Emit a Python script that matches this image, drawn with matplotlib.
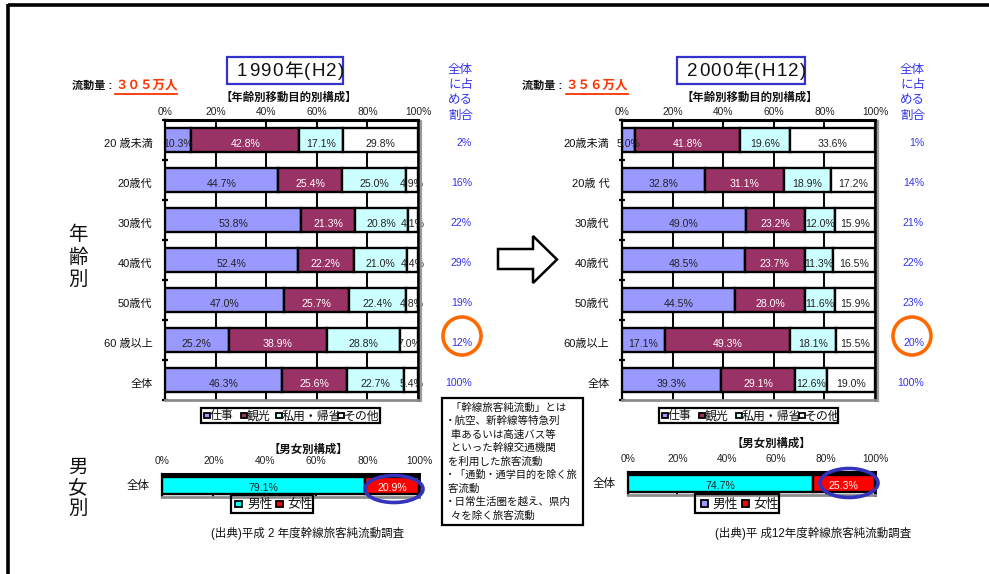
import numpy as np
import matplotlib
matplotlib.use("Agg")
import matplotlib.pyplot as plt
from matplotlib.patches import Rectangle, Ellipse, Polygon

plt.rcParams['font.family'] = ['Liberation Sans', 'Noto Sans CJK JP', 'DejaVu Sans']

W, H = 989, 574

# ---------------- data ----------------
purposes = ["仕事", "観光", "私用・帰省", "その他"]
purpose_colors = ["#9999FF", "#993366", "#CCFFFF", "#FFFFFF"]
purpose_text_colors = ["#222222", "#FFFFFF", "#222222", "#222222"]

ages_1990 = ["20 歳未満", "20歳代", "30歳代", "40歳代", "50歳代", "60 歳以上", "全体"]
ages_2000 = ["20歳未満", "20歳 代", "30歳代", "40歳代", "50歳代", "60歳以上", "全体"]

business_1990 = [10.3, 44.7, 53.8, 52.4, 47.0, 25.2, 46.3]
tourism_1990 = [42.8, 25.4, 21.3, 22.2, 25.7, 38.9, 25.6]
private_1990 = [17.1, 25.0, 20.8, 21.0, 22.4, 28.8, 22.7]
other_1990 = [29.8, 4.9, 4.1, 4.4, 4.8, 7.0, 5.4]

business_2000 = [5.0, 32.8, 49.0, 48.5, 44.5, 17.1, 39.3]
tourism_2000 = [41.8, 31.1, 23.2, 23.7, 28.0, 49.3, 29.1]
private_2000 = [19.6, 18.9, 12.0, 11.3, 11.6, 18.1, 12.6]
other_2000 = [33.6, 17.2, 15.9, 16.5, 15.9, 15.5, 19.0]

share_1990 = [2, 16, 22, 29, 19, 12, 100]
share_2000 = [1, 14, 21, 22, 23, 20, 100]

genders = ["男性", "女性"]
gender_colors = ["#00FFFF", "#FF0000"]
gender_text_colors = ["#222222", "#FFFFFF"]
gender_1990 = [79.1, 20.9]
gender_2000 = [74.7, 25.3]

pct_ticks = [0, 20, 40, 60, 80, 100]
pct_tick_labels = ["0%", "20%", "40%", "60%", "80%", "100%"]

volume_1990 = "３０５万人"
volume_2000 = "３５６万人"
year_1990 = "1990年(H2)"
year_2000 = "2000年(H12)"

note_lines = [
    "  「幹線旅客純流動」とは",
    "・航空、新幹線等特急列",
    "  車あるいは高速バス等",
    "  といった幹線交通機関",
    " を利用した旅客流動",
    "・「通勤・通学目的を除く旅",
    " 客流動",
    "・日常生活圏を越え、県内",
    "  々を除く旅客流動",
]

# ---------------- figure ----------------
fig = plt.figure(figsize=(W / 100, H / 100), dpi=100)
fig.patch.set_facecolor("white")


def px_axes(x0, y0, x1, y1, **kw):
    return fig.add_axes([x0 / W, 1 - y1 / H, (x1 - x0) / W, (y1 - y0) / H], **kw)


def style_frame(ax):
    ax.spines['top'].set_linewidth(2.2)
    ax.spines['right'].set_linewidth(2.0)
    ax.spines['left'].set_linewidth(1.6)
    ax.spines['bottom'].set_linewidth(2.0)
    ax.spines['bottom'].set_color('#8c8c8c')


def draw_purpose(ax, cats, series):
    n = len(cats)
    y = np.arange(n)
    left = np.zeros(n)
    for vals, col, tcol in zip(series, purpose_colors, purpose_text_colors):
        vals = np.asarray(vals, dtype=float)
        ax.barh(y, vals, left=left, height=0.62, color=col,
                edgecolor='black', linewidth=1.7, zorder=3)
        for yi, l, v in zip(y, left, vals):
            ax.annotate(f"{v:.1f}%", xy=(l + v / 2, yi), xytext=(0, -3),
                        textcoords='offset points', ha='center', va='center',
                        fontsize=7.6, color=tcol, zorder=5)
        left += vals
    ax.set_xlim(0, 100)
    ax.set_ylim(n - 0.5, -0.5)
    ax.set_xticks(pct_ticks)
    ax.set_xticklabels(pct_tick_labels, fontsize=7.4, color='#222222')
    ax.xaxis.tick_top()
    ax.tick_params(axis='x', length=0, pad=2.5)
    ax.set_yticks([])
    ax.set_yticks(np.arange(-0.5, n, 1), minor=True)
    ax.tick_params(axis='y', which='minor', length=4, width=1.6,
                   direction='inout', labelleft=False)
    for x in pct_ticks[1:-1]:
        ax.axvline(x, color='black', lw=1.4, zorder=1)
    tr = ax.get_yaxis_transform()
    for i, c in enumerate(cats):
        ax.annotate(c, xy=(0, i), xycoords=tr, xytext=(-9, -3),
                    textcoords='offset points', ha='right', va='center',
                    fontsize=8, color='#111111')
    style_frame(ax)


def draw_gender(ax, vals):
    left = 0.0
    for v, col, tcol in zip(vals, gender_colors, gender_text_colors):
        ax.barh([0], [v], left=left, height=0.72, color=col,
                edgecolor='black', linewidth=1.7, zorder=3)
        ax.annotate(f"{v:.1f}%", xy=(left + v / 2, 0), xytext=(0, -1.5),
                    textcoords='offset points', ha='center', va='center',
                    fontsize=7.6, color=tcol, zorder=5)
        left += v
    ax.set_xlim(0, 100)
    ax.set_ylim(0.5, -0.5)
    ax.set_xticks(pct_ticks)
    ax.set_xticklabels(pct_tick_labels, fontsize=7.4, color='#222222')
    ax.xaxis.tick_top()
    ax.tick_params(axis='x', length=0, pad=6)
    ax.set_yticks([])
    for x in pct_ticks[1:-1]:
        ax.axvline(x, color='black', lw=1.4, zorder=1)
    tr = ax.get_yaxis_transform()
    ax.annotate("全体", xy=(0, 0), xycoords=tr, xytext=(-9, 0),
                textcoords='offset points', ha='right', va='center',
                fontsize=8.3, color='#111111')
    style_frame(ax)


ax1 = px_axes(165, 120, 418, 400)
draw_purpose(ax1, ages_1990, [business_1990, tourism_1990, private_1990, other_1990])
ax2 = px_axes(622, 120, 875, 400)
draw_purpose(ax2, ages_2000, [business_2000, tourism_2000, private_2000, other_2000])

g1 = px_axes(162, 474, 419, 497)
draw_gender(g1, gender_1990)
g2 = px_axes(628, 472, 875, 495)
draw_gender(g2, gender_2000)

# ---------------- overlay (pixel coordinates) ----------------
ov = fig.add_axes([0, 0, 1, 1], zorder=10)
ov.set_xlim(0, W)
ov.set_ylim(H, 0)
ov.axis('off')
ov.patch.set_alpha(0)
renderer = fig.canvas.get_renderer()
px_per_unit = fig.bbox.width / W


def spaced_text(x, y, s, spacing, **kw):
    for ch in s:
        t = ov.text(x, y, ch, ha='left', va='center', **kw)
        bb = t.get_window_extent(renderer)
        x += bb.width / px_per_unit + spacing


# page border
ov.plot([8, W], [5, 5], color='black', lw=2.6, solid_capstyle='butt')
ov.plot([8, 8], [4, H], color='black', lw=2.6, solid_capstyle='butt')

# shadows on the right of the main plots
for xs in (420.5, 877.5):
    ov.plot([xs, xs], [121, 401], color='#9a9a9a', lw=1.6)

blue = '#3333EE'
orange_red = '#FF3300'

for (bx0, bx1, tx, ytxt, vx0, vtxt, vx_line, tcx, lx, rx, shares, cx) in [
    (227, 343, 237, year_1990, 72, volume_1990, (115, 177), 289, 448, 472, share_1990, 462),
    (677, 805, 687, year_2000, 522, volume_2000, (566, 628), 750, 900, 924, share_2000, 912),
]:
    ov.add_patch(Rectangle((bx0, 57), bx1 - bx0, 27, fill=False, ec='#3333CC', lw=1.6))
    spaced_text(tx, 72, ytxt, 1.3, fontsize=13.5, color='#111111')
    ov.text(vx0, 86, "流動量 :", fontsize=8, fontweight='bold', ha='left', va='center',
            color='#111111')
    ov.text(vx_line[0], 86, vtxt, fontsize=9, fontweight='bold', ha='left', va='center',
            color=orange_red)
    ov.plot(list(vx_line), [93.5, 93.5], color=orange_red, lw=1.3)
    ov.text(tcx, 97, "【年齢別移動目的別構成】", fontsize=8.2, fontweight='bold',
            ha='center', va='center', color='#111111')
    for k, s in enumerate(["全体", "に占", "める", "割合"]):
        ov.text(lx, 70 + k * 15.2, s, fontsize=9, ha='left', va='center', color=blue)
    for i, v in enumerate(shares):
        ov.text(rx, 143 + i * 40, f"{v}%", fontsize=7.6, ha='right', va='center', color=blue)
    ov.add_patch(Ellipse((cx, 336), 38, 38, fill=False, ec='#FF6A00', lw=2.6))

# gender titles
ov.text(308, 449, "【男女別構成】", fontsize=8.2, fontweight='bold', ha='center',
        va='center', color='#111111')
ov.text(771, 443, "【男女別構成】", fontsize=8.2, fontweight='bold', ha='center',
        va='center', color='#111111')

# ellipses around female share
ov.add_patch(Ellipse((394, 489), 58, 27, fill=False, ec='#3333BB', lw=2.6))
ov.add_patch(Ellipse((849, 483), 58, 29, fill=False, ec='#3333BB', lw=2.6))


def legend_box(x0, y0, x1, y1, sq_x, txt_x, labels, colors, fs, sq):
    ov.add_patch(Rectangle((x0, y0), x1 - x0, y1 - y0, fill=False, ec='black', lw=1.6))
    yc = (y0 + y1) / 2
    for sx, tx_, lab, col in zip(sq_x, txt_x, labels, colors):
        ov.add_patch(Rectangle((sx, yc - sq / 2), sq, sq, fc=col, ec='black', lw=1.3))
        ov.text(tx_, yc + 1, lab, fontsize=fs, ha='left', va='center', color='#111111')


legend_box(201, 408, 380, 423, [204, 241, 276, 338], [210, 247, 282, 344],
           purposes, purpose_colors, 8.6, 5.5)
legend_box(659, 408, 838, 423, [662, 699, 736, 799], [668, 705, 742, 805],
           purposes, purpose_colors, 8.6, 5.5)
legend_box(231, 495, 313, 513, [235, 276], [247, 287], genders, gender_colors, 9.2, 6.5)
legend_box(695, 494, 779, 513, [701, 742], [712, 753], genders,
           [purpose_colors[0], gender_colors[1]], 9.2, 6.5)

# source notes
ov.text(211, 533, "(出典)平成 2 年度幹線旅客純流動調査", fontsize=8.3, ha='left',
        va='center', color='#111111')
ov.text(715, 533, "(出典)平 成12年度幹線旅客純流動調査", fontsize=8.3, ha='left',
        va='center', color='#111111')

# side labels
for k, ch in enumerate("年齢別"):
    ov.text(78, 235 + k * 22.5, ch, fontsize=14, ha='center', va='center', color='#111111')
for k, ch in enumerate("男女別"):
    ov.text(78, 468 + k * 20.5, ch, fontsize=14, ha='center', va='center', color='#111111')

# arrow
ov.add_patch(Polygon([(498, 249), (533, 249), (533, 236), (557, 259.5),
                      (533, 283), (533, 269), (498, 269)], closed=True,
                     fc='white', ec='black', lw=1.8))

# note box
ov.add_patch(Rectangle((442, 398), 141, 127, fill=False, ec='black', lw=1.6))
for k, line in enumerate(note_lines):
    ov.text(445, 407.5 + k * 13.5, line, fontsize=7.3 if k == 5 else 7.6,
            ha='left', va='center', color='#111111')

fig.savefig("out.png", dpi=100)
